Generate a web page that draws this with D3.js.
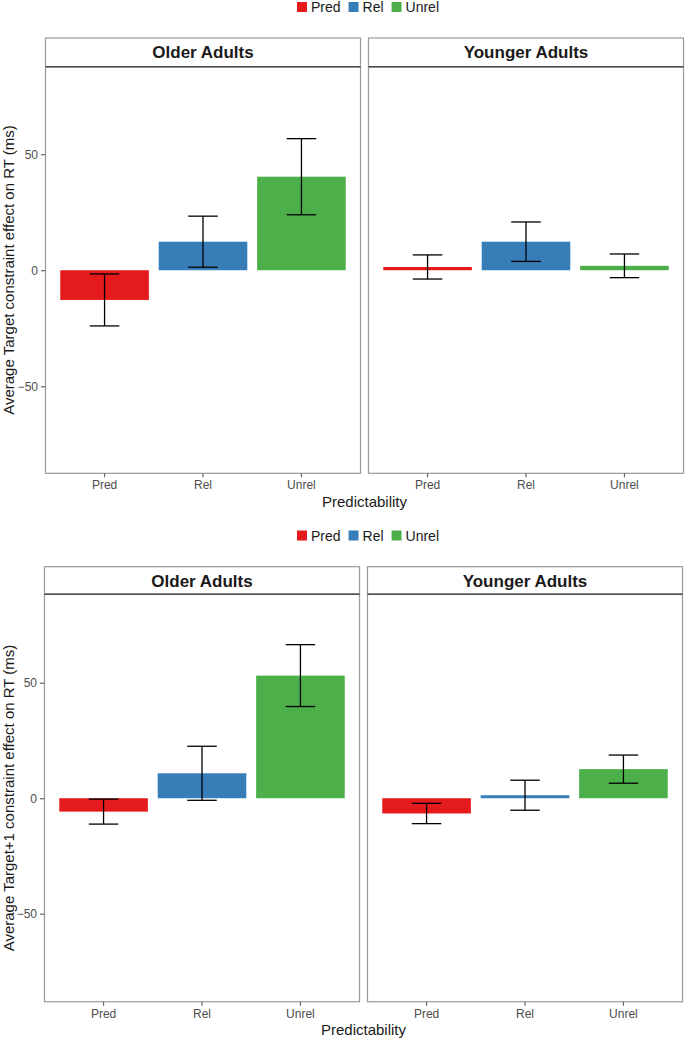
<!DOCTYPE html>
<html>
<head>
<meta charset="utf-8">
<script src="https://d3js.org/d3.v7.min.js"></script>
<style>
    body { margin: 0; background: #fff; }
    svg text { font-family: "Liberation Sans", Arial, Helvetica, sans-serif; }
</style>
</head>
<body>
<svg id="drawing_region"></svg>
<script>
const categories = ['Pred', 'Rel', 'Unrel'];
const groups = ['Older Adults', 'Younger Adults'];
const colors = ['#E41A1C', '#377EB8', '#4DAF4A'];
const yTicks = [-50, 0, 50];

// Target word
const targetOlderMean = [-12.8, 12.3, 40.3];
const targetOlderErr = [11.2, 11.0, 16.4];
const targetYoungerMean = [1.4, 12.3, 1.9];
const targetYoungerErr = [5.2, 8.5, 5.1];

// Target+1 word
const nextOlderMean = [-5.8, 10.8, 53.1];
const nextOlderErr = [5.4, 11.7, 13.4];
const nextYoungerMean = [-6.6, 1.3, 12.6];
const nextYoungerErr = [4.4, 6.5, 6.1];

function makeRows(means, errs) {
    return means.map((m, i) => ({ cat: categories[i], mean: m, err: errs[i] }));
}

const svg = d3.select('#drawing_region')
    .attr('width', 685)
    .attr('height', 1040);

class FacetBarChart {
    constructor(config, panels) {
        this.config = config;
        this.panels = panels;
        this.init();
    }
    init() {
        let self = this;
        const c = self.config;
        self.g = svg.append('g');
        self.panel_width = 315;
        self.panel_gap = 8;

        self.xscale = d3.scaleBand()
            .domain(categories)
            .range([0, self.panel_width])
            .paddingInner(0.1)
            .paddingOuter(0.15);
        self.yscale = d3.scaleLinear()
            .domain(c.ydomain)
            .range([c.plotBottom, c.plotTop]);
        self.color = d3.scaleOrdinal().domain(categories).range(colors);
    }
    render() {
        let self = this;
        const c = self.config;
        const x = self.xscale, y = self.yscale;

        // legend
        const legend = self.g.append('g');
        let lx = 0;
        categories.forEach(cat => {
            const item = legend.append('g').attr('transform', `translate(${lx},0)`);
            item.append('rect')
                .attr('x', 0).attr('y', c.legendY - 5)
                .attr('width', 10).attr('height', 10)
                .attr('fill', self.color(cat));
            const t = item.append('text')
                .attr('x', 14).attr('y', c.legendY + 5)
                .attr('font-size', 14).attr('fill', '#1a1a1a')
                .text(cat);
            lx += 14 + t.node().getComputedTextLength() + 8;
        });
        legend.attr('transform', `translate(${368 - (lx - 8) / 2},0)`);

        self.panels.forEach((rows, i) => {
            const px = c.left + i * (self.panel_width + self.panel_gap);
            const pg = self.g.append('g').attr('transform', `translate(${px},0)`);

            pg.selectAll('rect.bar')
                .data(rows)
                .join('rect')
                .attr('class', 'bar')
                .attr('x', d => x(d.cat))
                .attr('width', x.bandwidth())
                .attr('y', d => y(Math.max(0, d.mean)))
                .attr('height', d => Math.abs(y(d.mean) - y(0)))
                .attr('fill', d => self.color(d.cat));

            const capw = x.step() * 0.3;
            const eb = pg.selectAll('g.err')
                .data(rows)
                .join('g')
                .attr('class', 'err')
                .attr('stroke', '#000')
                .attr('stroke-width', 1.3)
                .attr('fill', 'none');
            eb.append('line')
                .attr('x1', d => x(d.cat) + x.bandwidth() / 2)
                .attr('x2', d => x(d.cat) + x.bandwidth() / 2)
                .attr('y1', d => y(d.mean + d.err))
                .attr('y2', d => y(d.mean - d.err));
            eb.append('line')
                .attr('x1', d => x(d.cat) + x.bandwidth() / 2 - capw / 2)
                .attr('x2', d => x(d.cat) + x.bandwidth() / 2 + capw / 2)
                .attr('y1', d => y(d.mean + d.err))
                .attr('y2', d => y(d.mean + d.err));
            eb.append('line')
                .attr('x1', d => x(d.cat) + x.bandwidth() / 2 - capw / 2)
                .attr('x2', d => x(d.cat) + x.bandwidth() / 2 + capw / 2)
                .attr('y1', d => y(d.mean - d.err))
                .attr('y2', d => y(d.mean - d.err));

            // strip
            pg.append('rect')
                .attr('x', 0).attr('y', c.stripTop)
                .attr('width', self.panel_width)
                .attr('height', c.plotTop - c.stripTop)
                .attr('fill', '#fff')
                .attr('stroke', '#9a9a9a')
                .attr('stroke-width', 1.2);
            pg.append('text')
                .attr('x', self.panel_width / 2)
                .attr('y', (c.stripTop + c.plotTop) / 2 + 6)
                .attr('text-anchor', 'middle')
                .attr('font-size', 17)
                .attr('font-weight', 'bold')
                .attr('fill', '#1a1a1a')
                .text(groups[i]);

            // panel border
            pg.append('rect')
                .attr('x', 0).attr('y', c.plotTop)
                .attr('width', self.panel_width)
                .attr('height', c.plotBottom - c.plotTop)
                .attr('fill', 'none')
                .attr('stroke', '#9a9a9a')
                .attr('stroke-width', 1.2);
            pg.append('line')
                .attr('x1', 0).attr('x2', self.panel_width)
                .attr('y1', c.plotTop).attr('y2', c.plotTop)
                .attr('stroke', '#4d4d4d')
                .attr('stroke-width', 1.6);

            // x axis
            const xaxis_group = pg.append('g')
                .attr('transform', `translate(0,${c.plotBottom})`)
                .call(d3.axisBottom(x).tickSize(4).tickPadding(3.5).tickSizeOuter(0));
            xaxis_group.select('.domain').remove();
            xaxis_group.selectAll('line').attr('stroke', '#666').attr('stroke-width', 1.2);
            xaxis_group.selectAll('text')
                .attr('font-size', 12).attr('fill', '#4d4d4d')
                .style('font-family', '"Liberation Sans", Arial, sans-serif');

            if (i === 0) {
                const yaxis_group = pg.append('g')
                    .call(d3.axisLeft(y).tickValues(yTicks).tickSize(4.5).tickPadding(3));
                yaxis_group.select('.domain').remove();
                yaxis_group.selectAll('line').attr('stroke', '#666').attr('stroke-width', 1.2);
                yaxis_group.selectAll('text')
                    .attr('font-size', 12).attr('fill', '#4d4d4d')
                    .style('font-family', '"Liberation Sans", Arial, sans-serif');
            }
        });

        // axis titles
        const totalRight = c.left + 2 * self.panel_width + self.panel_gap;
        self.g.append('text')
            .attr('x', (c.left + totalRight) / 2)
            .attr('y', c.xTitleY)
            .attr('text-anchor', 'middle')
            .attr('font-size', 15)
            .attr('fill', '#1a1a1a')
            .text('Predictability');
        self.g.append('text')
            .attr('transform', `translate(14,${(c.plotTop + c.plotBottom) / 2}) rotate(-90)`)
            .attr('text-anchor', 'middle')
            .attr('font-size', 15)
            .attr('fill', '#1a1a1a')
            .text(c.ytitle);
    }
}

const top_chart = new FacetBarChart({
    left: 45.5,
    legendY: 7,
    stripTop: 38,
    plotTop: 66.7,
    plotBottom: 473.3,
    xTitleY: 506.5,
    ydomain: [-87.5, 87.7],
    ytitle: 'Average Target constraint effect on RT (ms)'
}, [makeRows(targetOlderMean, targetOlderErr), makeRows(targetYoungerMean, targetYoungerErr)]);
top_chart.render();

const bottom_chart = new FacetBarChart({
    left: 44.5,
    legendY: 535.5,
    stripTop: 566.7,
    plotTop: 594.3,
    plotBottom: 1001.7,
    xTitleY: 1035,
    ydomain: [-88.1, 88.3],
    ytitle: 'Average Target+1 constraint effect on RT (ms)'
}, [makeRows(nextOlderMean, nextOlderErr), makeRows(nextYoungerMean, nextYoungerErr)]);
bottom_chart.render();
</script>
</body>
</html>
